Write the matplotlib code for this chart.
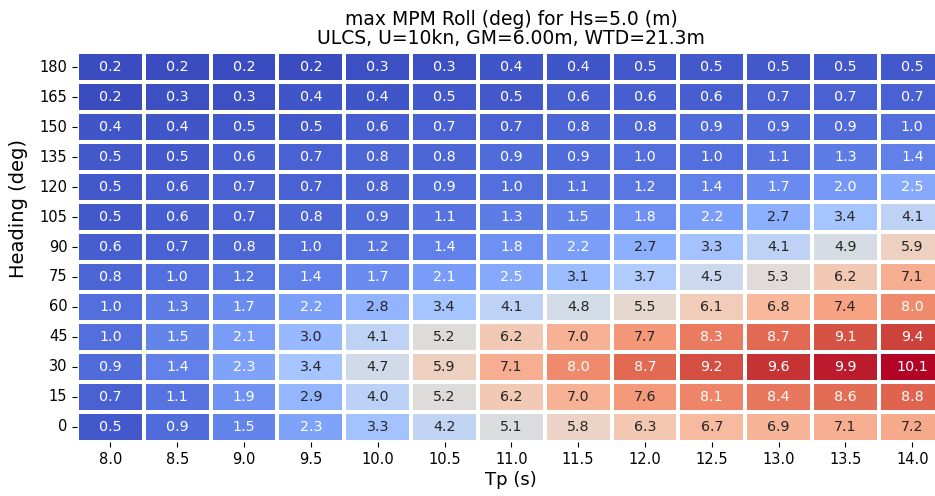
import numpy as np
import pandas as pd
import matplotlib
matplotlib.use("Agg")
import matplotlib.pyplot as plt
import seaborn as sns

tp_labels = ["8.0", "8.5", "9.0", "9.5", "10.0", "10.5", "11.0", "11.5", "12.0", "12.5", "13.0", "13.5", "14.0"]
headings = [180, 165, 150, 135, 120, 105, 90, 75, 60, 45, 30, 15, 0]

roll_180 = [0.2, 0.2, 0.2, 0.2, 0.3, 0.3, 0.4, 0.4, 0.5, 0.5, 0.5, 0.5, 0.5]
roll_165 = [0.2, 0.3, 0.3, 0.4, 0.4, 0.5, 0.5, 0.6, 0.6, 0.6, 0.7, 0.7, 0.7]
roll_150 = [0.4, 0.4, 0.5, 0.5, 0.6, 0.7, 0.7, 0.8, 0.8, 0.9, 0.9, 0.9, 1.0]
roll_135 = [0.5, 0.5, 0.6, 0.7, 0.8, 0.8, 0.9, 0.9, 1.0, 1.0, 1.1, 1.3, 1.4]
roll_120 = [0.5, 0.6, 0.7, 0.7, 0.8, 0.9, 1.0, 1.1, 1.2, 1.4, 1.7, 2.0, 2.5]
roll_105 = [0.5, 0.6, 0.7, 0.8, 0.9, 1.1, 1.3, 1.5, 1.8, 2.2, 2.7, 3.4, 4.1]
roll_090 = [0.6, 0.7, 0.8, 1.0, 1.2, 1.4, 1.8, 2.2, 2.7, 3.3, 4.1, 4.9, 5.9]
roll_075 = [0.8, 1.0, 1.2, 1.4, 1.7, 2.1, 2.5, 3.1, 3.7, 4.5, 5.3, 6.2, 7.1]
roll_060 = [1.0, 1.3, 1.7, 2.2, 2.8, 3.4, 4.1, 4.8, 5.5, 6.1, 6.8, 7.4, 8.0]
roll_045 = [1.0, 1.5, 2.1, 3.0, 4.1, 5.2, 6.2, 7.0, 7.7, 8.3, 8.7, 9.1, 9.4]
roll_030 = [0.9, 1.4, 2.3, 3.4, 4.7, 5.9, 7.1, 8.0, 8.7, 9.2, 9.6, 9.9, 10.1]
roll_015 = [0.7, 1.1, 1.9, 2.9, 4.0, 5.2, 6.2, 7.0, 7.6, 8.1, 8.4, 8.6, 8.8]
roll_000 = [0.5, 0.9, 1.5, 2.3, 3.3, 4.2, 5.1, 5.8, 6.3, 6.7, 6.9, 7.1, 7.2]

rows = [roll_180, roll_165, roll_150, roll_135, roll_120, roll_105, roll_090,
        roll_075, roll_060, roll_045, roll_030, roll_015, roll_000]
df = pd.DataFrame(rows, index=headings, columns=tp_labels)

fig = plt.figure(figsize=(9.35, 4.96), dpi=100)
ax = fig.add_axes([0.0824, 0.109, 0.929, 0.786])
sns.heatmap(df, ax=ax, cmap="coolwarm", annot=True, fmt=".1f", cbar=False,
            linewidths=1.5, linecolor="white", annot_kws={"fontsize": 10.3})
ax.set_xlabel("Tp (s)", fontsize=13, labelpad=3)
ax.set_ylabel("Heading (deg)", fontsize=14)
ax.yaxis.set_label_coords(-0.056, 0.60)
ax.set_title("max MPM Roll (deg) for Hs=5.0 (m)\nULCS, U=10kn, GM=6.00m, WTD=21.3m",
             fontsize=13.5, linespacing=1.0, pad=6)
ax.tick_params(axis="both", labelsize=10.5)
plt.setp(ax.get_yticklabels(), rotation=0)
plt.setp(ax.get_xticklabels(), rotation=0)
fig.savefig("out.png", dpi=100)
